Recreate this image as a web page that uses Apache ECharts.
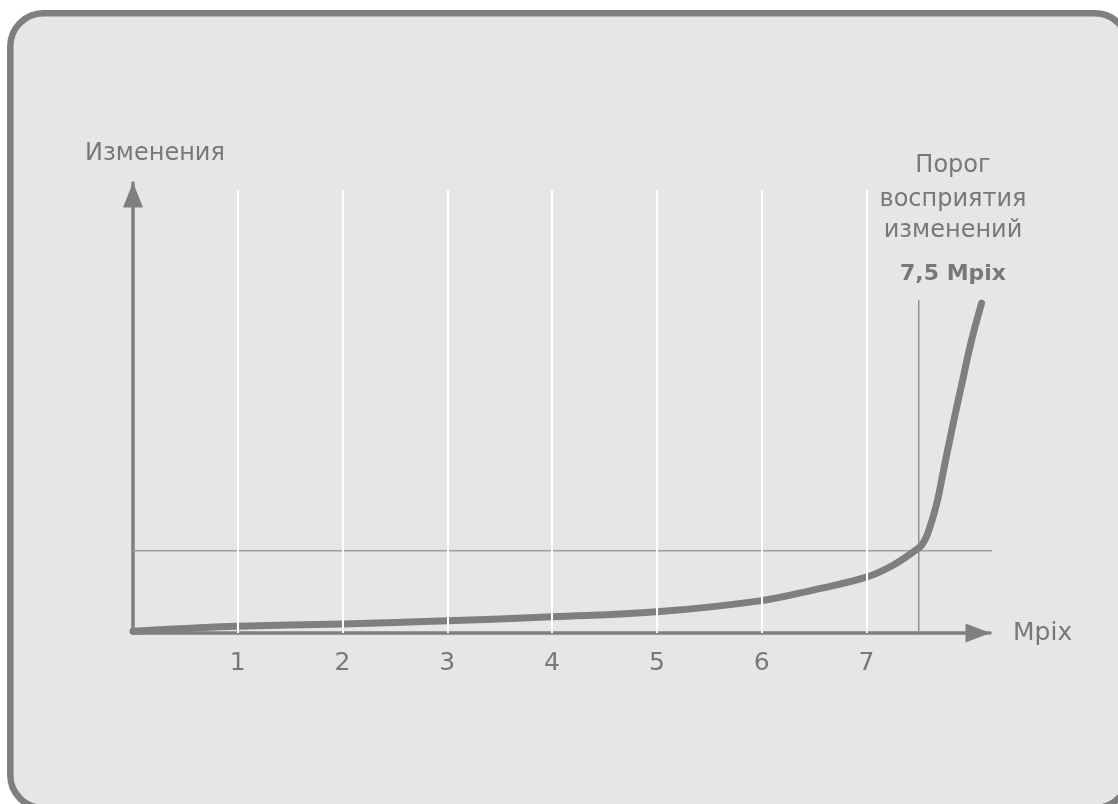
<!DOCTYPE html>
<html>
<head>
<meta charset="utf-8">
<title>Порог восприятия изменений</title>
<script src="https://cdn.jsdelivr.net/npm/echarts@6/dist/echarts.min.js"></script>
<style>
  html, body { margin: 0; padding: 0; background: #fff; }
  #chart { width: 1118px; height: 804px; }
</style>
</head>
<body>
<div id="chart"></div>
<script>
// кривая заметности изменений в зависимости от разрешения
const curveX = [0, 0.5, 1, 2, 3, 4, 5, 6, 6.5, 7, 7.25, 7.47, 7.53, 7.58, 7.63, 7.68, 7.72, 7.77, 7.84, 7.92, 8.0, 8.1]
const curveY = [0.4, 1.0, 1.5, 2.0, 2.7, 3.6, 4.7, 7.2, 9.6, 12.4, 15.0, 18.4, 19.6, 21.8, 25.3, 29.6, 34.2, 40.0, 47.8, 56.3, 64.7, 73.3]

const tickValues = [1, 2, 3, 4, 5, 6, 7]
const gridLineTop = 98.4

const thresholdX = 7.5
const thresholdTop = 74
const levelY = 18.3
const levelEnd = 8.24

const thresholdText = ['Порог', 'восприятия', 'изменений']
const thresholdValue = '7,5 Mpix'

const textColor = '#787878'
const lineColor = '#7f7f81'
const font = 'DejaVu Sans'

const chart = echarts.init(document.getElementById('chart'))

const option = {
  backgroundColor: '#ffffff',
  animation: false,
  grid: {
    left: 133,
    top: 183,
    right: 128,
    bottom: 171
  },
  graphic: [
    {
      type: 'rect',
      z: -100,
      shape: { x: 10.3, y: 13.3, width: 1117.7, height: 794.7, r: 33 },
      style: { fill: '#e6e6e6', stroke: '#7f7f80', lineWidth: 6.5 }
    },
    ...thresholdText.map((t, i) => ({
      type: 'text',
      x: 953,
      y: [166, 200, 231][i],
      style: {
        text: t,
        fill: textColor,
        font: '24px "' + font + '"',
        align: 'center',
        verticalAlign: 'middle'
      }
    })),
    {
      type: 'text',
      x: 953,
      y: 274,
      style: {
        text: thresholdValue,
        fill: textColor,
        font: 'bold 22px "' + font + '"',
        align: 'center',
        verticalAlign: 'middle'
      }
    }
  ],
  xAxis: {
    type: 'value',
    min: 0,
    max: 8.18,
    interval: 1,
    name: 'Mpix',
    nameLocation: 'end',
    nameGap: 23,
    nameTextStyle: { color: textColor, fontSize: 25, fontFamily: font, padding: [6, 0, 0, 0] },
    axisLine: {
      show: true,
      symbol: ['none', 'triangle'],
      symbolSize: [19, 25],
      symbolOffset: [0, -12],
      lineStyle: { color: lineColor, width: 3.5 }
    },
    axisTick: { show: false },
    splitLine: { show: false },
    axisLabel: {
      color: textColor,
      fontSize: 25,
      fontFamily: font,
      margin: 18,
      showMinLabel: false,
      showMaxLabel: false,
      formatter: v => tickValues.includes(v) ? String(v) : ''
    }
  },
  yAxis: {
    type: 'value',
    min: 0,
    max: 100,
    name: 'Изменения',
    nameLocation: 'end',
    nameGap: 17,
    nameTextStyle: { color: textColor, fontSize: 24, fontFamily: font, align: 'center', padding: [0, 0, 0, 44] },
    axisLine: {
      show: true,
      symbol: ['none', 'triangle'],
      symbolSize: [20, 25],
      symbolOffset: [0, -12],
      lineStyle: { color: lineColor, width: 3.5 }
    },
    axisTick: { show: false },
    axisLabel: { show: false },
    splitLine: { show: false }
  },
  series: [
    {
      // белые вертикальные линии сетки
      type: 'line',
      z: 1,
      silent: true,
      data: [],
      markLine: {
        silent: true,
        symbol: 'none',
        label: { show: false },
        lineStyle: { color: '#ffffff', width: 2, type: 'solid' },
        data: tickValues.map(t => [{ coord: [t, 0] }, { coord: [t, gridLineTop] }])
      }
    },
    {
      // горизонтальный уровень порога
      type: 'line',
      z: 2,
      silent: true,
      clip: false,
      symbol: 'none',
      lineStyle: { color: '#9d9d9d', width: 1.5 },
      data: [[0, levelY], [levelEnd, levelY]]
    },
    {
      // вертикальная линия 7,5 Mpix
      type: 'line',
      z: 2,
      silent: true,
      clip: false,
      symbol: 'none',
      lineStyle: { color: '#939393', width: 1.5 },
      data: [[thresholdX, 0], [thresholdX, thresholdTop]]
    },
    {
      type: 'line',
      z: 3,
      silent: true,
      clip: false,
      symbol: 'none',
      smooth: 0.4,
      lineStyle: { color: lineColor, width: 7, cap: 'round', join: 'round' },
      data: curveX.map((x, i) => [x, curveY[i]])
    }
  ]
}

chart.setOption(option)
</script>
</body>
</html>
